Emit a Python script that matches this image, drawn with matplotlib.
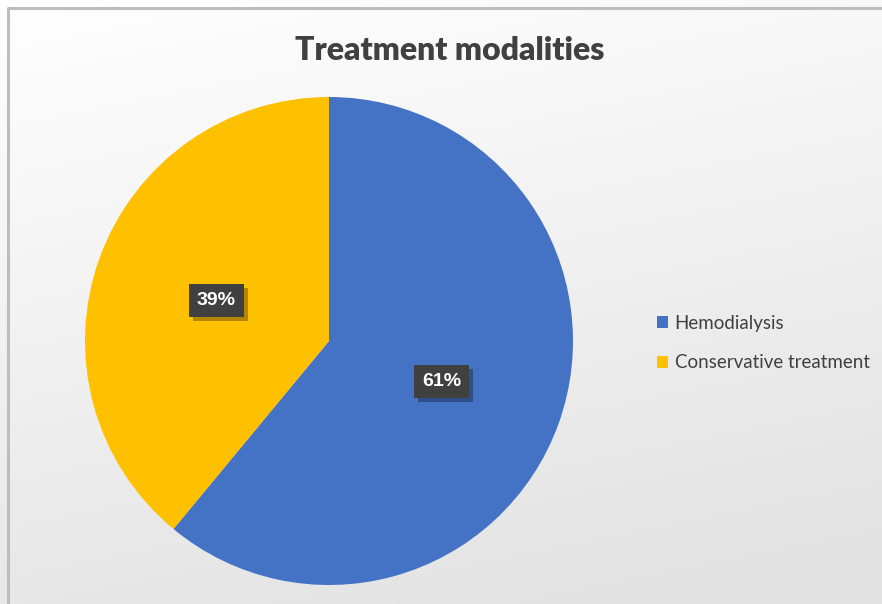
import matplotlib
matplotlib.use("Agg")
import matplotlib.pyplot as plt
import matplotlib.patheffects as pe
import numpy as np

categories = ["Hemodialysis", "Conservative treatment"]
values = [61, 39]
colors = ["#4472C4", "#FFC000"]
title = "Treatment modalities"

W, H = 882, 604
fig = plt.figure(figsize=(W / 100, H / 100), dpi=100)

# gradient background
bg = fig.add_axes([0, 0, 1, 1], zorder=0)
yy, xx = np.mgrid[0:1:200j, 0:1:300j]
t = np.clip(0.25 * xx + 0.85 * yy, 0, 1)
top = np.array([1.0, 1.0, 1.0])
bot = np.array([0.89, 0.89, 0.89])
img = top[None, None, :] * (1 - t[..., None]) + bot[None, None, :] * t[..., None]
bg.imshow(img, extent=[0, W, H, 0], aspect="auto")
bg.set_xlim(0, W)
bg.set_ylim(H, 0)
bg.plot([8, 8, W + 5], [H + 5, 8, 8], color="#bdbdbd", lw=2.2)
bg.axis("off")

cx, cy, r = 329, 341, 244
ax = fig.add_axes([(cx - r) / W, (H - cy - r) / H, 2 * r / W, 2 * r / H], zorder=1)
wedges, texts, autotexts = ax.pie(
    values, colors=colors, startangle=90, counterclock=False, radius=1,
    autopct="%d%%", pctdistance=0.49,
    wedgeprops=dict(linewidth=0),
    textprops=dict(color="white", fontsize=14, fontweight="bold", family="Liberation Sans"),
)
ax.set_xlim(-1, 1)
ax.set_ylim(-1, 1)
ax.set_aspect("equal")
for at in autotexts:
    at.set_bbox(dict(boxstyle="square,pad=0.42", facecolor="#404040", edgecolor="none"))
    at.get_bbox_patch().set_path_effects([
        pe.SimplePatchShadow(offset=(3, -3), shadow_rgbFace="black", alpha=0.3),
        pe.Normal(),
    ])

fig.text(450 / W, 1 - 50 / H, title, ha="center", va="center",
         fontsize=23, fontweight="heavy", color="#404040", family="Lato")

leg = fig.legend(wedges, categories, loc="center left",
                 bbox_to_anchor=(640 / W, 1 - 343 / H), frameon=False,
                 prop=dict(family="Lato", size=13.5), labelcolor="#404040",
                 handlelength=0.6, handleheight=0.6, handletextpad=0.35,
                 labelspacing=1.2)

fig.savefig("out.png", dpi=100)
